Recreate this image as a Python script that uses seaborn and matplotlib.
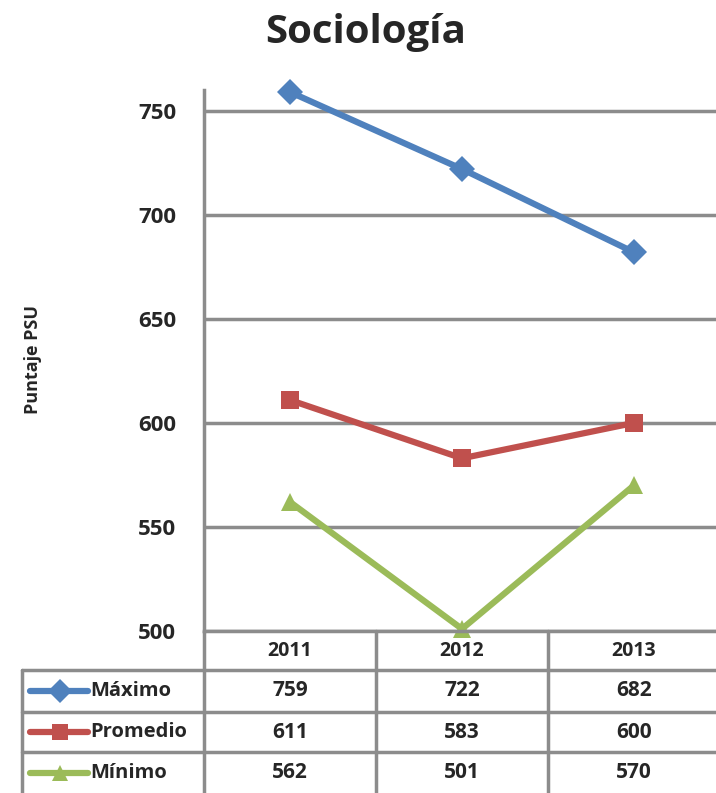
import matplotlib
matplotlib.use("Agg")
import matplotlib.pyplot as plt
from matplotlib.lines import Line2D
import pandas as pd
import seaborn as sns

years = [2011, 2012, 2013]
series_names = ["Máximo", "Promedio", "Mínimo"]
maximo = [759, 722, 682]
promedio = [611, 583, 600]
minimo = [562, 501, 570]
y_ticks = [500, 550, 600, 650, 700, 750]

colors = {"Máximo": "#4F81BD", "Promedio": "#C0504D", "Mínimo": "#9BBB59"}
markers = {"Máximo": "D", "Promedio": "s", "Mínimo": "^"}

df = pd.DataFrame({
    "anio": years * 3,
    "puntaje": maximo + promedio + minimo,
    "serie": [s for s in series_names for _ in years],
})

sns.set_style("white")
plt.rcParams["font.family"] = ["Open Sans", "DejaVu Sans"]
plt.rcParams["font.weight"] = "bold"

W, H = 716, 793
fig = plt.figure(figsize=(W / 100, H / 100), dpi=100)
# axes in pixels: left 204, right 720, top 90, bottom 631
ax = fig.add_axes([204 / W, 1 - 631 / H, (720 - 204) / W, (631 - 90) / H])

sns.lineplot(data=df, x="anio", y="puntaje", hue="serie", style="serie",
             palette=colors, markers=markers, dashes=False, linewidth=4.5,
             markersize=13, markeredgewidth=0, legend=False, ax=ax)
for ln in ax.lines:
    ln.set_clip_on(False)

ax.set_xlim(2010.5, 2013.5)
ax.set_ylim(500, 760)
ax.set_yticks(y_ticks)
ax.set_yticklabels([str(v) for v in y_ticks], fontsize=16, fontweight="bold")
ax.set_xticks([])
ax.tick_params(axis="y", length=0, pad=20)
ax.grid(axis="y", color="#8c8c8c", linewidth=2.5)
ax.set_axisbelow(True)
for side in ["top", "right"]:
    ax.spines[side].set_visible(False)
for side in ["left", "bottom"]:
    ax.spines[side].set_color("#8c8c8c")
    ax.spines[side].set_linewidth(2.5)
ax.set_xlabel("")
ax.set_ylabel("")
fig.text(33 / W, 1 - 360 / H, "Puntaje PSU", rotation=90, ha="center",
         va="center", fontsize=13, fontweight="bold")

fig.text(366 / W, 1 - 32 / H, "Sociología", ha="center", va="center",
         fontsize=29, fontweight="bold")

# data table
grid_c = "#8c8c8c"
col_x = [204, 376, 548, 720]
row_y = [631, 670, 712, 752, 800]


def px(x, y):
    return x / W, 1 - y / H


def hline(x0, x1, y):
    fig.add_artist(Line2D([x0 / W, x1 / W], [1 - y / H, 1 - y / H],
                          color=grid_c, lw=2.5))


def vline(x, y0, y1):
    fig.add_artist(Line2D([x / W, x / W], [1 - y0 / H, 1 - y1 / H],
                          color=grid_c, lw=2.5))


hline(22, 720, row_y[1])
for y in row_y[2:4]:
    hline(22, 720, y)
vline(22, row_y[1], row_y[-1])
for x in col_x:
    vline(x, row_y[0], row_y[-1])

for i, yr in enumerate(years):
    cx = (col_x[i] + col_x[i + 1]) / 2
    fig.text(*px(cx, (row_y[0] + row_y[1]) / 2 + 1), str(yr), ha="center",
             va="center", fontsize=14, fontweight="bold")

values = [maximo, promedio, minimo]
for r, name in enumerate(series_names):
    cy = (row_y[r + 1] + min(row_y[r + 2], 793)) / 2
    fig.add_artist(Line2D([30 / W, 88 / W], [1 - cy / H] * 2,
                          color=colors[name], lw=4.5))
    fig.add_artist(Line2D([60 / W], [1 - cy / H], color=colors[name],
                          marker=markers[name], markersize=12, lw=0,
                          markeredgewidth=0))
    fig.text(*px(90, cy), name, ha="left", va="center", fontsize=14.5,
             fontweight="bold")
    for i, v in enumerate(values[r]):
        cx = (col_x[i] + col_x[i + 1]) / 2
        fig.text(*px(cx, cy), str(v), ha="center", va="center",
                 fontsize=15, fontweight="bold")

fig.savefig("out.png", dpi=100, facecolor="white")
